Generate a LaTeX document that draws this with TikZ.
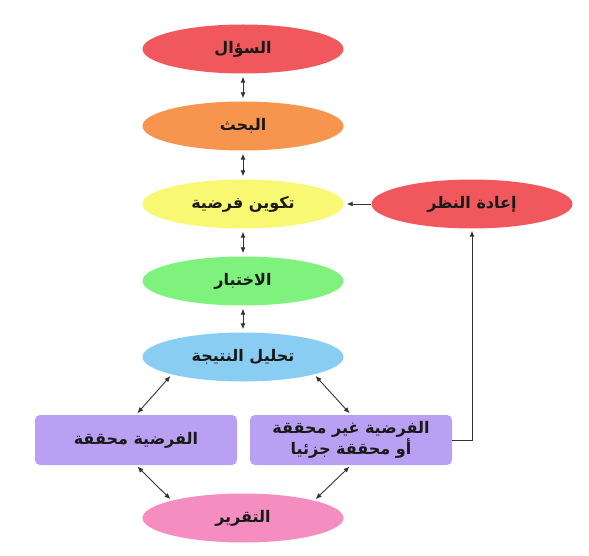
\documentclass[tikz,border=0pt]{standalone}
\usepackage{fontspec}
\newfontfamily\arabicfont[Script=Arabic]{DejaVu Sans}
\TeXXeTstate=1
\usetikzlibrary{shapes.geometric,arrows.meta}
\definecolor{redstep}{HTML}{F0585D}
\definecolor{orangestep}{HTML}{F7954F}
\definecolor{yellowstep}{HTML}{F8F872}
\definecolor{greenstep}{HTML}{7EF27C}
\definecolor{bluestep}{HTML}{8ACDF3}
\definecolor{purplestep}{HTML}{B9A0F3}
\definecolor{pinkstep}{HTML}{F58DC1}
\definecolor{linegray}{HTML}{333333}
\newcommand{\artext}[1]{\beginR #1\endR}

\begin{document}
\begin{tikzpicture}[x=1pt, y=-1pt,
    every node/.style = {font=\arabicfont\bfseries\fontsize{16}{21}\selectfont,
    text=black!90},
    oval/.style = {ellipse, minimum width=201pt, minimum height=49pt,
    inner sep=0pt, fill=#1},
    box/.style = {rectangle, rounded corners=5pt, minimum width=202pt,
    minimum height=50pt, inner sep=0pt, fill=purplestep, align=center},
    link/.style = {draw=linegray, line width=0.9pt,
    {Latex[length=6pt,width=5pt]}-{Latex[length=6pt,width=5pt]}},
    oneway/.style = {draw=linegray, line width=0.9pt,
    -{Latex[length=6pt,width=5pt]}}
    ]
    \useasboundingbox (0,0) rectangle (589,556);
    % main column
    \node[oval=redstep] (sual) at (243,49) {\artext{السؤال}};
    \node[oval=orangestep] (bahth) at (243,126) {\artext{البحث}};
    \node[oval=yellowstep] (takwin) at (243,204) {\artext{تكوين فرضية}};
    \node[oval=greenstep] (ikhtibar) at (243,281) {\artext{الاختبار}};
    \node[oval=bluestep] (tahlil) at (243,357) {\artext{تحليل النتيجة}};
    \node[oval=redstep] (nazar) at (472,204) {\artext{إعادة النظر}};
    % results
    \node[box] (haqq) at (136,440) {\artext{الفرضية محققة}};
    \node[box] (ghair) at (351,440)
      {\artext{الفرضية غير محققة}\\\artext{أو محققة جزئيا}};
    \node[oval=pinkstep] (taqrir) at (243,518) {\artext{التقرير}};

    \draw[link, shorten <=3pt, shorten >=3pt] (sual) -- (bahth);
    \draw[link, shorten <=3pt, shorten >=3pt] (bahth) -- (takwin);
    \draw[link, shorten <=3pt, shorten >=3pt] (takwin) -- (ikhtibar);
    \draw[link, shorten <=3pt, shorten >=3pt] (ikhtibar) -- (tahlil);
    \draw[link, shorten <=2pt, shorten >=2pt] (tahlil.south west) -- (haqq.north);
    \draw[link, shorten <=2pt, shorten >=2pt] (tahlil.south east) -- (ghair.north);
    \draw[link, shorten <=2pt, shorten >=2pt] (haqq.south) -- (taqrir.north west);
    \draw[link, shorten <=2pt, shorten >=2pt] (ghair.south) -- (taqrir.north east);
    % feedback loop
    \draw[oneway, shorten >=2pt] (ghair.east) -| (nazar.south);
    \draw[oneway, shorten >=3pt] (nazar.west) -- (takwin.east);
\end{tikzpicture}
\end{document}
